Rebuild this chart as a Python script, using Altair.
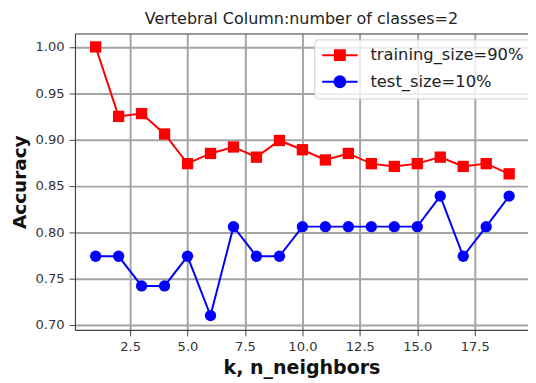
import altair as alt
import pandas as pd

k_values = list(range(1, 20))
train_acc = [1.000, 0.925, 0.928, 0.906, 0.874, 0.885, 0.892, 0.881, 0.899, 0.889,
             0.878, 0.885, 0.874, 0.871, 0.874, 0.881, 0.871, 0.874, 0.863]
test_acc = [0.774, 0.774, 0.742, 0.742, 0.774, 0.710, 0.806, 0.774, 0.774, 0.806,
            0.806, 0.806, 0.806, 0.806, 0.806, 0.839, 0.774, 0.806, 0.839]
series_names = ["training_size=90%", "test_size=10%"]
series_colors = ["#ff0000", "#0000ff"]
series_shapes = ["square", "circle"]
legend_shapes = [
    "M-1,0H3.5M0.625,-0.625H1.875V0.625H0.625Z",
    "M-1,0H3.5M1.95,0A0.7,0.7 0 1,1 0.55,0A0.7,0.7 0 1,1 1.95,0Z",
]
x_ticks = [2.5, 5.0, 7.5, 10.0, 12.5, 15.0, 17.5]
y_ticks = [0.70, 0.75, 0.80, 0.85, 0.90, 0.95, 1.00]
title_text = "Vertebral Column:number of classes=2"
x_title = "k, n_neighbors"
y_title = "Accuracy"

rows = []
for k, v in zip(k_values, train_acc):
    rows.append({"k": k, "acc": v, "series": series_names[0]})
for k, v in zip(k_values, test_acc):
    rows.append({"k": k, "acc": v, "series": series_names[1]})
df = pd.DataFrame(rows)

FONT = "DejaVu Sans"
GRID = "#a4a4a4"
xs = alt.Scale(domain=[0.1, 19.82], nice=False, zero=False)
ys = alt.Scale(domain=[0.6945, 1.0145], nice=False, zero=False)
cs = alt.Scale(domain=series_names, range=series_colors)
ls = alt.Scale(domain=series_names, range=legend_shapes)

x_axis_bottom = alt.Axis(
    values=x_ticks, format=".1f", grid=True, gridColor=GRID, gridWidth=2,
    domainColor="#444444", domainWidth=1.2, tickColor="#444444", tickSize=6,
    labelFont=FONT, labelFontSize=13.3, labelColor="#333333", labelPadding=4,
    title=x_title, titleFont=FONT, titleFontSize=19.3, titleFontWeight="bold",
    titleColor="#111111", titleBaseline="alphabetic", titleY=44.5,
)
x_axis_top = alt.Axis(
    orient="top", labels=False, ticks=False, grid=False, domain=True,
    domainColor="#444444", domainWidth=1.2, title=None,
)
y_axis = alt.Axis(
    values=y_ticks, format=".2f", grid=True, gridColor=GRID, gridWidth=2,
    domainColor="#444444", domainWidth=1.2, tickColor="#444444", tickSize=6,
    labelFont=FONT, labelFontSize=13.3, labelColor="#333333", labelPadding=5,
    title=y_title, titleFont=FONT, titleFontSize=18.7, titleFontWeight="bold",
    titleColor="#111111", titleAngle=270, titleBaseline="alphabetic",
    titleX=-50, titleY=150.5, titleAlign="center",
)

legend = alt.Legend(
    title=None, orient="none", legendX=243, legendY=6,
    labelFont=FONT, labelFontSize=16.6, labelColor="#222222",
    symbolSize=256, symbolStrokeWidth=2, symbolOpacity=1,
    labelOffset=32, rowPadding=8, padding=7,
    fillColor="rgba(255,255,255,0.8)", strokeColor="#cccccc", cornerRadius=4,
)

base = alt.Chart(df)
Y = alt.Y("acc:Q", scale=ys, axis=y_axis)

legend_layer = base.transform_filter("false").mark_point(
    filled=True, size=256, opacity=1, strokeWidth=2
).encode(
    x=alt.X("k:Q", scale=xs, axis=None),
    y=Y,
    fill=alt.Fill("series:N", scale=cs, legend=legend),
    stroke=alt.Stroke("series:N", scale=cs, legend=legend),
    shape=alt.Shape("series:N", scale=ls, legend=legend),
)
lines = base.mark_line(strokeWidth=2).encode(
    x=alt.X("k:Q", scale=xs, axis=x_axis_bottom),
    y=Y,
    stroke=alt.Stroke("series:N", scale=cs, legend=legend),
    detail="series:N",
)
train_pts = base.transform_filter(
    alt.datum.series == series_names[0]
).mark_point(filled=True, size=132, opacity=1, shape=series_shapes[0]).encode(
    x=alt.X("k:Q", scale=xs, axis=x_axis_top),
    y=Y,
    fill=alt.Fill("series:N", scale=cs, legend=legend),
)
test_pts = base.transform_filter(
    alt.datum.series == series_names[1]
).mark_point(filled=True, size=132, opacity=1, shape=series_shapes[1]).encode(
    x=alt.X("k:Q", scale=xs, axis=None),
    y=Y,
    fill=alt.Fill("series:N", scale=cs, legend=legend),
)

chart = alt.layer(legend_layer, lines, train_pts, test_pts).resolve_axis(
    x="independent"
).properties(
    width=460, height=301,
    title=alt.TitleParams(title_text, font=FONT, fontSize=16.2, fontWeight="normal",
                          color="#222222", offset=8, baseline="alphabetic",
                          anchor="middle", frame="group", dy=15),
    padding={"left": 68, "top": 23, "right": 0, "bottom": 50},
    autosize=alt.AutoSizeParams(type="none"),
).configure_view(stroke=None).configure(background="white")

chart.save("out.html", embed_options={"renderer": "svg", "actions": False})
